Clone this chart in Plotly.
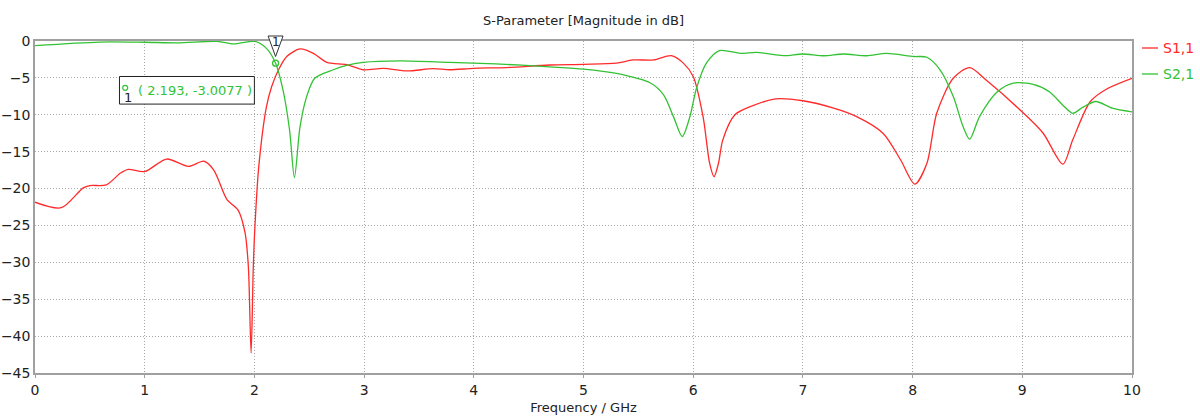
import plotly.graph_objects as go

# S1,1 (reflection) in dB
s11_freq = [0.0, 0.24, 0.44, 0.50, 0.65, 0.78, 0.85, 1.0, 1.2, 1.40, 1.54, 1.63, 1.75, 1.85,
            1.915, 1.945, 1.97, 1.99, 2.005, 2.04, 2.11, 2.157, 2.22, 2.295, 2.416, 2.537,
            2.66, 2.84, 2.99, 3.175, 3.39, 3.63, 3.78, 4.0, 4.3, 4.69, 5.0, 5.30, 5.45,
            5.64, 5.80, 5.91, 6.0, 6.09, 6.15, 6.19, 6.23, 6.27, 6.38, 6.52, 6.75, 7.0,
            7.28, 7.49, 7.73, 7.89, 8.02, 8.13, 8.22, 8.37, 8.52, 8.67, 8.98, 9.19, 9.37,
            9.46, 9.62, 9.77, 10.0]
s11_db = [-21.85, -22.6, -19.9, -19.6, -19.5, -17.9, -17.4, -17.7, -16.0, -17.0, -16.3, -17.5,
          -21.5, -22.9, -26.0, -30.6, -42.3, -30.6, -25.1, -17.0, -8.9, -6.2, -3.9, -2.1,
          -1.08, -1.67, -2.9, -3.2, -3.9, -3.7, -4.06, -3.75, -3.9, -3.7, -3.6, -3.25,
          -3.16, -3.0, -2.57, -2.57, -1.99, -3.0, -4.8, -10.25, -16.6, -18.4, -16.6, -13.4,
          -10.0, -8.9, -7.85, -8.1, -9.1, -10.25, -12.5, -16.1, -19.4, -16.6, -9.8, -5.05,
          -3.6, -5.3, -9.35, -12.5, -16.7, -13.4, -8.2, -6.5, -5.05]

# S2,1 (transmission) in dB
s21_freq = [0.0, 0.59, 1.0, 1.3, 1.66, 1.81, 2.005, 2.11, 2.193, 2.26, 2.32, 2.365, 2.416,
            2.477, 2.55, 2.72, 2.84, 2.99, 3.33, 3.78, 4.2, 4.69, 5.0, 5.3, 5.61, 5.73,
            5.82, 5.90, 5.97, 6.03, 6.12, 6.24, 6.43, 6.58, 6.82, 7.0, 7.19, 7.37, 7.58,
            7.76, 8.01, 8.13, 8.25, 8.37, 8.46, 8.52, 8.61, 8.77, 8.92, 9.1, 9.25, 9.37,
            9.46, 9.55, 9.67, 9.82, 10.0]
s21_db = [-0.63, -0.14, -0.17, -0.25, -0.05, -0.4, -0.05, -1.0, -3.0077, -6.6, -12.0, -18.5,
          -11.6, -7.5, -5.05, -3.9, -3.3, -2.9, -2.7, -2.9, -3.1, -3.5, -3.8, -4.4, -5.7,
          -7.3, -10.25, -12.95, -10.25, -6.4, -3.0, -1.3, -1.67, -1.53, -1.99, -1.76,
          -2.0, -1.76, -2.0, -1.67, -2.1, -2.2, -3.9, -7.5, -11.6, -13.3, -10.25, -6.9,
          -5.7, -5.87, -6.9, -8.7, -9.8, -9.0, -8.2, -9.1, -9.6]

# Marker 1 on S2,1
marker_f = 2.193
marker_db = -3.0077

x_range = [0, 10]
y_range = [-45, 0]
x_ticks = [0, 1, 2, 3, 4, 5, 6, 7, 8, 9, 10]
y_ticks = [0, -5, -10, -15, -20, -25, -30, -35, -40, -45]

RED = "#ff2a2a"
GREEN = "#33c233"
FONT = "DejaVu Sans"
TEXT = "#222222"

fig = go.Figure()
fig.add_trace(go.Scatter(x=s11_freq, y=s11_db, mode="lines", name="S1,1",
                         line=dict(color=RED, width=1.3, shape="spline", smoothing=0.8)))
fig.add_trace(go.Scatter(x=s21_freq, y=s21_db, mode="lines", name="S2,1",
                         line=dict(color=GREEN, width=1.3, shape="spline", smoothing=0.8)))
fig.add_trace(go.Scatter(x=[marker_f], y=[marker_db], mode="markers", showlegend=False,
                         marker=dict(symbol="circle-open", size=6, color=GREEN,
                                     line=dict(width=1.3, color=GREEN)),
                         cliponaxis=False))

axis_common = dict(showline=True, linecolor="#a0a0a0", linewidth=1.5, mirror=True,
                   showgrid=True, gridcolor="#a8a8a8", griddash="1px,2px", gridwidth=1,
                   zeroline=False, automargin=False,
                   tickfont=dict(family=FONT, size=14, color=TEXT))

fig.update_xaxes(range=x_range, tickvals=x_ticks, ticks="outside", ticklen=3,
                 tickcolor="#a0a0a0", **axis_common,
                 title=dict(text="Frequency / GHz", font=dict(family=FONT, size=13, color=TEXT),
                            standoff=6))
fig.update_yaxes(range=y_range, tickvals=y_ticks, ticks="", **axis_common)

# marker triangle at top edge with its index
mx_paper = (marker_f - x_range[0]) / (x_range[1] - x_range[0])
fig.add_shape(type="path", xref="paper", yref="paper",
              xsizemode="pixel", ysizemode="pixel",
              xanchor=mx_paper, yanchor=1,
              path="M -7.5,5 L 7.5,5 L 0,-15.5 Z",
              line=dict(color="#333333", width=1), fillcolor="white")
fig.add_annotation(xref="paper", yref="paper", x=mx_paper, y=1,
                   xanchor="center", yanchor="middle", yshift=-1, text="1", showarrow=False,
                   font=dict(family=FONT, size=12, color=TEXT))

# marker readout box
box_x0, box_x1, box_y0, box_y1 = 0.77, 2.0, -4.81, -8.55
fig.add_shape(type="rect", xref="x", yref="y", x0=box_x0, x1=box_x1, y0=box_y0, y1=box_y1,
              line=dict(color="#222222", width=1), fillcolor="white", layer="above")
fig.add_shape(type="circle", xref="x", yref="y", xsizemode="pixel", ysizemode="pixel",
              xanchor=box_x0, yanchor=-6.35, x0=3.2, x1=8.2, y0=-2.5, y1=2.5,
              line=dict(color=GREEN, width=1.2), layer="above")
fig.add_annotation(xref="x", yref="y", x=box_x0, y=-6.7, xshift=17, xanchor="left",
                   yanchor="middle", text=f"( {marker_f}, {marker_db} )", showarrow=False,
                   font=dict(family=FONT, size=13, color=GREEN))
fig.add_annotation(xref="x", yref="y", x=box_x0, y=-7.65, xshift=9, xanchor="center",
                   yanchor="middle", text="1", showarrow=False,
                   font=dict(family=FONT, size=13, color=TEXT))

# legend entries drawn at the right of the plot
for i, (name, color) in enumerate([("S1,1", RED), ("S2,1", GREEN)]):
    ypos = 1 - (7 + 26 * i) / 332
    fig.add_shape(type="line", xref="paper", yref="paper", x0=1.0091, x1=1.0237,
                  y0=ypos, y1=ypos, line=dict(color=color, width=1.3))
    fig.add_annotation(xref="paper", yref="paper", x=1.0265, y=ypos, xanchor="left",
                       yanchor="middle", text=name, showarrow=False,
                       font=dict(family=FONT, size=14, color=color))

fig.update_layout(
    width=1200, height=420,
    margin=dict(l=35, r=68, t=41, b=47),
    paper_bgcolor="white", plot_bgcolor="white",
    showlegend=False,
    title=dict(text="S-Parameter [Magnitude in dB]", xref="paper", x=0.5, xanchor="center",
               y=1 - 20 / 420, yanchor="middle",
               font=dict(family=FONT, size=13, color=TEXT)),
)

fig.write_html("out.html")
